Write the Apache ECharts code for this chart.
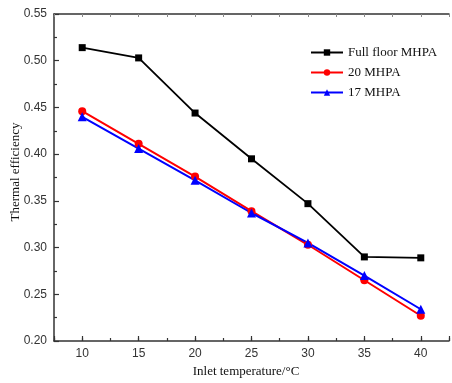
<!DOCTYPE html>
<html>
<head>
<meta charset="utf-8">
<script src="https://cdn.jsdelivr.net/npm/echarts@6/dist/echarts.min.js"></script>
<style>html,body{margin:0;padding:0;background:#fff;}#c{width:452px;height:383px;}</style>
</head>
<body>
<div id="c"></div>
<script>
const temperatures = [10, 15, 20, 25, 30, 35, 40];
const fullFloor = [0.514, 0.503, 0.444, 0.395, 0.347, 0.290, 0.289];
const mhpa20 = [0.446, 0.411, 0.376, 0.339, 0.303, 0.265, 0.227];
const mhpa17 = [0.440, 0.406, 0.372, 0.337, 0.305, 0.270, 0.234];
const seriesNames = ['Full floor MHPA', '20 MHPA', '17 MHPA'];
const xTitle = 'Inlet temperature/°C';
const yTitle = 'Thermal efficiency';

const axisColor = '#333';
const serif = '"Liberation Serif", "Times New Roman", serif';
const sans = '"Liberation Sans", Arial, sans-serif';

function pairs(vals) { return temperatures.map((t, i) => [t, vals[i]]); }

const chart = echarts.init(document.getElementById('c'));
chart.setOption({
  animation: false,
  backgroundColor: '#fff',
  grid: { left: 54, top: 14, bottom: 42, right: -3.5 },
  legend: {
    orient: 'vertical', left: 305, top: 40.5, padding: 5,
    itemWidth: 32, itemHeight: 8, itemGap: 6,
    textStyle: { fontFamily: serif, fontSize: 13, color: '#111', lineHeight: 14 },
    data: seriesNames
  },
  xAxis: [
    {
      type: 'value', min: 7.5, max: 42.5, splitNumber: 7, position: 'bottom',
      axisLine: { lineStyle: { color: axisColor, width: 1.5 } },
      axisTick: { inside: true, length: 5, lineStyle: { color: axisColor, width: 1.2 } },
      axisLabel: { margin: 7, fontFamily: sans, fontSize: 12, color: '#333',
        formatter: v => (v % 5 === 0 ? String(v) : '') },
      splitLine: { show: false }
    },
    {
      type: 'value', min: 7.5, max: 42.5, interval: 2.5, position: 'bottom',
      axisLine: { show: false },
      axisTick: { inside: true, length: 3, lineStyle: { color: axisColor, width: 1.2 } },
      axisLabel: { show: false }, splitLine: { show: false }
    },
    {
      type: 'value', min: 7.5, max: 42.5, interval: 2.5, position: 'top',
      axisLine: { lineStyle: { color: axisColor, width: 1.5 } },
      axisTick: { inside: true, length: 3, lineStyle: { color: '#888', width: 1 } },
      axisLabel: { show: false }, splitLine: { show: false }
    }
  ],
  yAxis: {
    type: 'value', min: 0.2, max: 0.55, interval: 0.05,
    axisLine: { show: true, lineStyle: { color: axisColor, width: 1.5 } },
    axisTick: { show: true, inside: true, length: 5, lineStyle: { color: axisColor, width: 1.2 } },
    minorTick: { show: true, splitNumber: 2, length: 3, lineStyle: { color: axisColor, width: 1.2 } },
    axisLabel: { margin: 7, fontFamily: sans, fontSize: 12, color: '#333',
      formatter: v => v.toFixed(2) },
    splitLine: { show: false }
  },
  graphic: [
    { type: 'text', x: 246, y: 372, style: { text: xTitle, font: '13px ' + serif, fill: '#111', align: 'center', verticalAlign: 'middle' } },
    { type: 'text', x: 16, y: 172, rotation: Math.PI / 2, style: { text: yTitle, font: '13px ' + serif, fill: '#111', align: 'center', verticalAlign: 'middle' } }
  ],
  series: [
    { name: seriesNames[0], type: 'line', data: pairs(fullFloor), symbol: 'rect', symbolSize: 7,
      itemStyle: { color: '#000' }, lineStyle: { color: '#000', width: 1.8 } },
    { name: seriesNames[1], type: 'line', data: pairs(mhpa20), symbol: 'circle', symbolSize: 8,
      itemStyle: { color: '#ff0000' }, lineStyle: { color: '#ff0000', width: 2 } },
    { name: seriesNames[2], type: 'line', data: pairs(mhpa17), symbol: 'triangle', symbolSize: 9,
      itemStyle: { color: '#0000ff' }, lineStyle: { color: '#0000ff', width: 2 } }
  ]
});
</script>
</body>
</html>
